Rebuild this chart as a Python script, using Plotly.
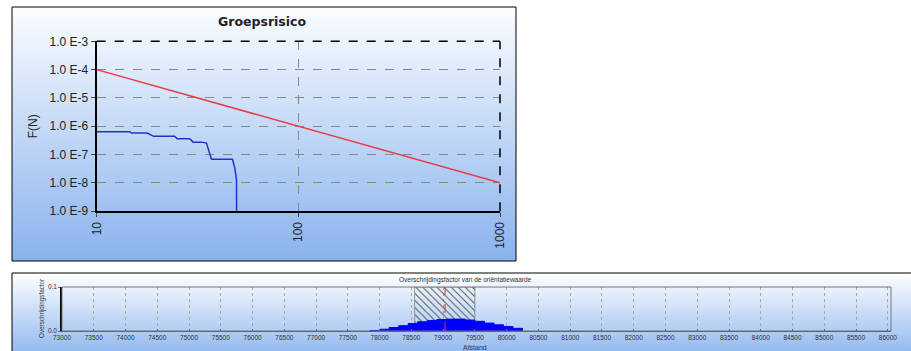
import base64
import plotly.graph_objects as go

# ---------------- data: Groepsrisico (FN curve) ----------------
n_blue = [10, 14.58, 14.9, 17.78, 19.18, 24.38, 25.05, 28.94, 30.06, 33.07, 35.03,
          37.07, 47.13, 48.4, 49.34, 49.4]
f_blue = [6.4e-7, 6.4e-7, 5.75e-7, 5.75e-7, 4.4e-7, 4.4e-7, 3.6e-7, 3.6e-7, 2.75e-7,
          2.75e-7, 2.55e-7, 6.85e-8, 6.85e-8, 3.3e-8, 1.3e-8, 1.0e-9]
n_ref = [10, 100, 1000]
f_ref = [1e-4, 1e-6, 1e-8]
fn_xticks = [10, 100, 1000]
fn_xlabels = ["10", "100", "1000"]
fn_yticks = [1e-9, 1e-8, 1e-7, 1e-6, 1e-5, 1e-4, 1e-3]
fn_ylabels = ["1.0 E-9", "1.0 E-8", "1.0 E-7", "1.0 E-6", "1.0 E-5", "1.0 E-4", "1.0 E-3"]

# ---------------- data: Overschrijdingsfactor ----------------
afstand = [77850, 78000, 78150, 78300, 78450, 78600, 78750, 78900, 79050, 79200,
           79350, 79500, 79650, 79800, 79950, 80100, 80250]
factor = [0.001, 0.004, 0.008, 0.012, 0.017, 0.021, 0.024, 0.026, 0.027, 0.027,
          0.025, 0.022, 0.018, 0.014, 0.010, 0.006, 0.0]
hatch_from = 78550
hatch_to = 79500
hatch_top = 0.1
ref_afstand = 79030
af_ticks = [73000, 73500, 74000, 74500, 75000, 75500, 76000, 76500, 77000, 77500,
            78000, 78500, 79000, 79500, 80000, 80500, 81000, 81500, 82000, 82500,
            83000, 83500, 84000, 84500, 85000, 85500, 86000]
af_labels = [str(v) for v in af_ticks]
of_yticks = [0.0, 0.1]
of_ylabels = ["0.0", "0.1"]

W, H = 911, 351


def px(x):
    return x / W


def py(y):
    return (H - y) / H


def grad_uri(c0, c1):
    svg = ('<svg xmlns="http://www.w3.org/2000/svg" width="100" height="100" '
           'viewBox="0 0 100 100" preserveAspectRatio="none"><defs>'
           '<linearGradient id="g" x1="0" y1="0" x2="0" y2="1">'
           f'<stop offset="0" stop-color="{c0}"/><stop offset="1" stop-color="{c1}"/>'
           '</linearGradient></defs><rect width="100" height="100" fill="url(#g)"/></svg>')
    return "data:image/svg+xml;base64," + base64.b64encode(svg.encode()).decode()


fig = go.Figure()

# top chart
fig.add_trace(go.Scatter(x=n_ref, y=f_ref, mode="lines",
                         line=dict(color="#e63c44", width=1.5), xaxis="x", yaxis="y"))
fig.add_trace(go.Scatter(x=n_blue, y=f_blue, mode="lines",
                         line=dict(color="#2233c4", width=1.5), xaxis="x", yaxis="y"))

# bottom chart
fig.add_trace(go.Scatter(x=[afstand[0]] + afstand, y=[0] + factor, mode="lines",
                         line=dict(color="#0000ff", width=1, shape="hv"),
                         fill="tozeroy", fillcolor="#0000ff", xaxis="x2", yaxis="y2"))
fig.add_trace(go.Bar(x=[(hatch_from + hatch_to) / 2], y=[hatch_top],
                     width=[hatch_to - hatch_from],
                     marker=dict(color="rgba(0,0,0,0)",
                                 pattern=dict(shape="\\", fgcolor="#555555",
                                              bgcolor="rgba(0,0,0,0)", size=5, solidity=0.2),
                                 line=dict(color="#999999", width=1)),
                     xaxis="x2", yaxis="y2"))
fig.add_trace(go.Scatter(x=[ref_afstand, ref_afstand], y=[0, hatch_top], mode="lines",
                         line=dict(color="#e03030", width=1, dash="dash"),
                         xaxis="x2", yaxis="y2"))

font_main = "Liberation Sans, Arial, sans-serif"

fig.update_layout(
    template="none",
    width=W, height=H, autosize=False,
    margin=dict(l=0, r=0, t=0, b=0, pad=0, autoexpand=False),
    paper_bgcolor="white", plot_bgcolor="rgba(0,0,0,0)",
    showlegend=False,
    font=dict(family=font_main, color="#222"),
    xaxis=dict(type="log", range=[1, 3], domain=[px(96.7), px(500)], anchor="y",
               automargin=False,
               tickvals=fn_xticks, ticktext=fn_xlabels, tickangle=-90,
               tickfont=dict(size=12, color="#222"),
               showgrid=True, gridcolor="#888888", griddash="dash", gridwidth=1,
               showline=True, linecolor="black", linewidth=2,
               ticks="outside", ticklen=4, tickcolor="#444", zeroline=False),
    yaxis=dict(type="log", range=[-9, -3], domain=[py(211.2), py(41.3)], anchor="x",
               automargin=False,
               tickvals=fn_yticks, ticktext=fn_ylabels,
               tickfont=dict(size=12, color="#222"),
               title=dict(text="F(N)", font=dict(size=12, color="#222"), standoff=9),
               showgrid=True, gridcolor="#888888", griddash="dash", gridwidth=1,
               showline=True, linecolor="black", linewidth=2,
               ticks="outside", ticklen=4, tickcolor="#444", zeroline=False),
    xaxis2=dict(range=[73000, 86050], domain=[px(62), px(891)], anchor="y2",
                automargin=False,
                tickvals=af_ticks, ticktext=af_labels, tickangle=0,
                tickfont=dict(size=6.5, color="#333"),
                showgrid=True, gridcolor="#a8a8a8", griddash="dot", gridwidth=1,
                showline=True, linecolor="#555", linewidth=1,
                ticks="inside", ticklen=2, tickcolor="#666", zeroline=False),
    yaxis2=dict(range=[0, 0.1], domain=[py(331), py(287)], anchor="x2",
                automargin=False,
                tickvals=of_yticks, ticktext=of_ylabels,
                tickfont=dict(size=6.5, color="#333"),
                showgrid=True, gridcolor="#a8a8a8", griddash="dot", gridwidth=1,
                showline=True, linecolor="black", linewidth=1.5,
                ticks="outside", ticklen=2, tickcolor="#666", zeroline=False),
    images=[
        dict(source=grad_uri("#fbfdff", "#88b2ed"), xref="paper", yref="paper",
             x=px(12), y=py(7), sizex=px(516) - px(12), sizey=py(7) - py(261),
             sizing="stretch", layer="below", xanchor="left", yanchor="top"),
        dict(source=grad_uri("#ffffff", "#94bbf0"), xref="paper", yref="paper",
             x=px(12), y=py(273), sizex=1 - px(12), sizey=py(273),
             sizing="stretch", layer="below", xanchor="left", yanchor="top"),
    ],
    shapes=[
        # panel borders
        dict(type="rect", xref="paper", yref="paper", x0=px(12), x1=px(913),
             y0=py(353), y1=py(273), line=dict(color="black", width=1)),
        dict(type="rect", xref="paper", yref="paper", x0=px(12), x1=px(516),
             y0=py(261), y1=py(7), line=dict(color="black", width=1)),
        # top chart dashed top/right borders
        dict(type="line", xref="x domain", yref="y domain", x0=0, x1=1, y0=1, y1=1,
             line=dict(color="black", width=1.5, dash="dash")),
        dict(type="line", xref="x domain", yref="y domain", x0=1, x1=1, y0=0, y1=1,
             line=dict(color="black", width=1.5, dash="dash")),
        # bottom chart frame
        dict(type="rect", xref="x2 domain", yref="y2 domain", x0=0, x1=1, y0=0, y1=1,
             line=dict(color="#777777", width=1)),
    ],
    annotations=[
        dict(text="<b>Groepsrisico</b>", xref="paper", yref="paper", x=px(262), y=py(21),
             xanchor="center", yanchor="middle", showarrow=False,
             font=dict(family="DejaVu Sans, sans-serif", size=12.5, color="#222")),
        dict(text="Overschrijdingsfactor van de oriëntatiewaarde", xref="paper", yref="paper",
             x=px(465), y=py(280), xanchor="center", yanchor="middle", showarrow=False,
             font=dict(size=6.5, color="#333")),
        dict(text="Afstand", xref="paper", yref="paper", x=px(475), y=py(347),
             xanchor="center", yanchor="middle", showarrow=False,
             font=dict(size=7, color="#333")),
        dict(text="Overschrijdingsfactor", xref="paper", yref="paper", x=px(42), y=py(309),
             xanchor="center", yanchor="middle", textangle=-90, showarrow=False,
             font=dict(size=6.3, color="#333")),
    ],
)

fig.write_html("out.html",
               config={"displayModeBar": False},
               post_script="document.body.style.margin='0';"
                           "document.body.style.overflow='hidden';"
                           "document.documentElement.style.overflow='hidden';")
